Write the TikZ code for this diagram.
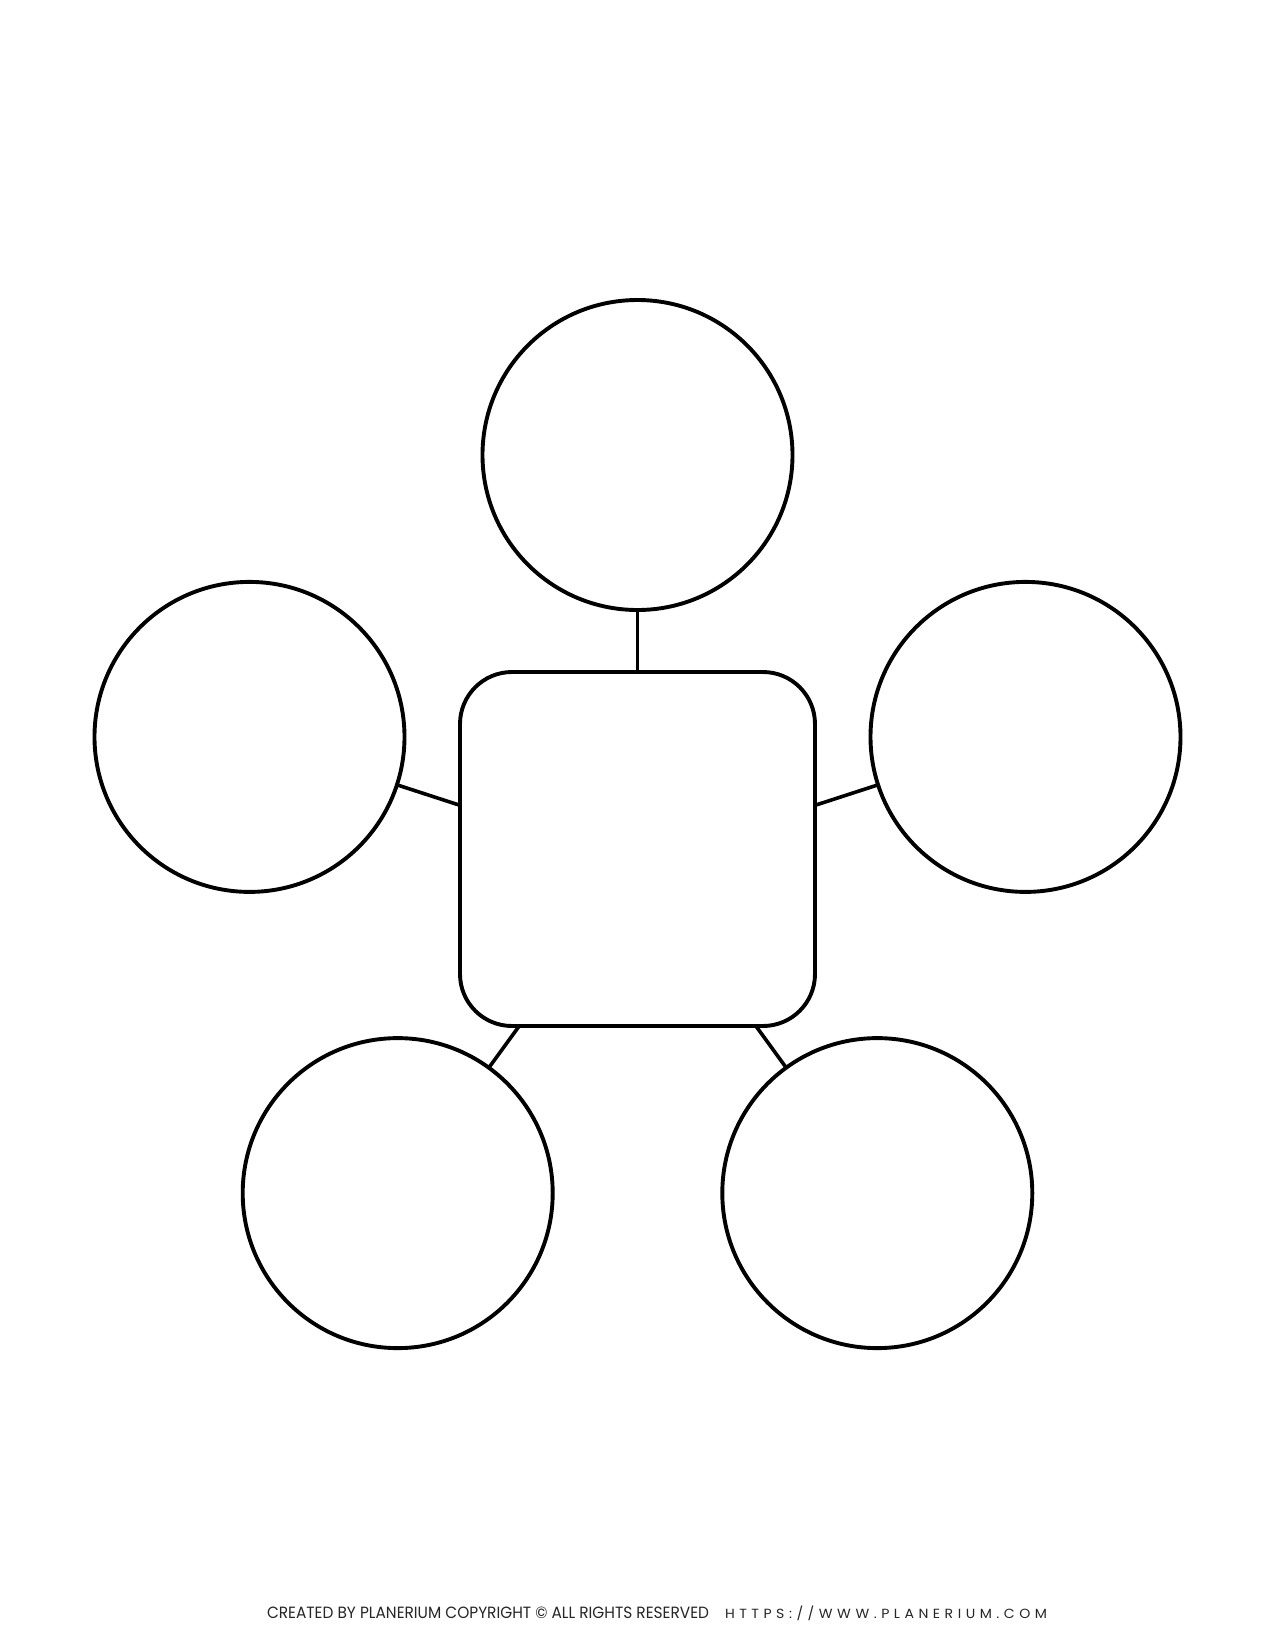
\documentclass[tikz,border=0pt]{standalone}
\usepackage{fontspec}
\setmainfont{Poppins}
\newfontfamily\spaced[LetterSpace=32]{Poppins}
\usetikzlibrary{calc}
\begin{document}
\begin{tikzpicture}[x=1pt,y=-1pt,
  bubble/.style={draw=black, line width=3.9pt, circle, minimum size=310pt, inner sep=0pt, outer sep=0pt},
  hub/.style={draw=black, line width=3.9pt, rectangle, rounded corners=52pt, minimum width=355pt, minimum height=354pt, inner sep=0pt, outer sep=0pt},
  link/.style={draw=black, line width=3.6pt},
  foot/.style={anchor=base west, inner sep=0pt, outer sep=0pt, text=black!85}]
  \useasboundingbox (0,0) rectangle (1275,1650);
  \fill[white] (0,0) rectangle (1275,1650);
  \coordinate (P) at (637.5,863);
  \node[hub] (sq) at (637.5,849) {};
  \node[bubble] (c1) at (637.5,455) {};
  \node[bubble] (c2) at (249.5,736.9) {};
  \node[bubble] (c3) at (1025.5,736.9) {};
  \node[bubble] (c4) at (397.7,1193.1) {};
  \node[bubble] (c5) at (877.3,1193.1) {};
  \draw[link] (c1) -- (sq.north);
  \draw[link] (c2) -- (intersection of c2--P and sq.north west--sq.south west);
  \draw[link] (c3) -- (intersection of c3--P and sq.north east--sq.south east);
  \draw[link] (c4) -- (intersection of c4--P and sq.south west--sq.south east);
  \draw[link] (c5) -- (intersection of c5--P and sq.south west--sq.south east);
  \node[foot] (credit) at (267,1618) {\resizebox{442pt}{11.5pt}{CREATED BY PLANERIUM COPYRIGHT © ALL RIGHTS RESERVED}};
  \node[foot] (url) at (725,1618) {\resizebox{322pt}{12.5pt}{\spaced HTTPS://WWW.PLANERIUM.COM}};
\end{tikzpicture}
\end{document}
